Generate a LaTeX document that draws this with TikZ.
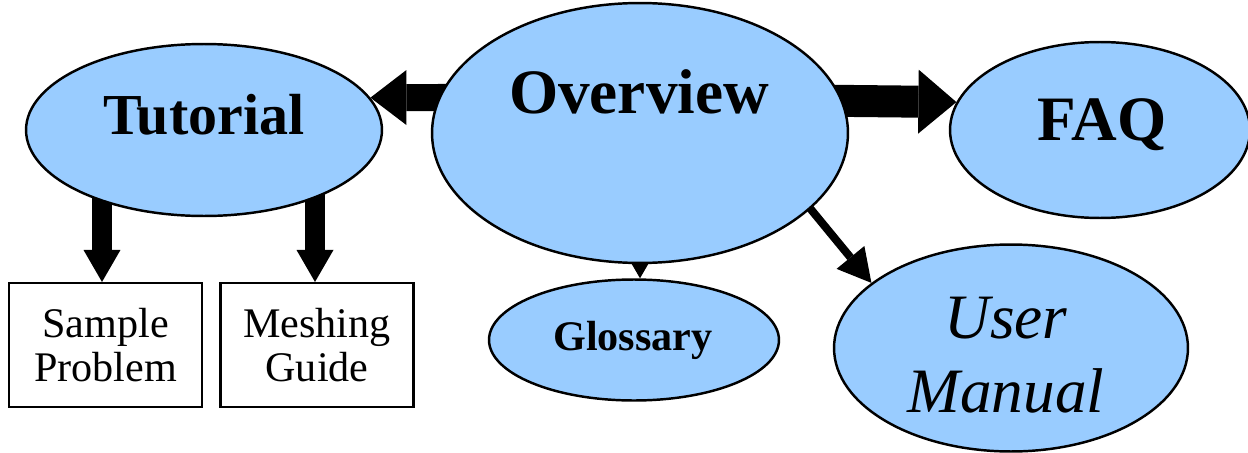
\documentclass[tikz,border=0pt]{standalone}
\usepackage{fontspec}
\setmainfont{Liberation Serif}
\usetikzlibrary{shapes.geometric,arrows.meta,backgrounds}
\definecolor{topicblue}{RGB}{153,204,255}

\begin{document}
\begin{tikzpicture}[x=0.02cm, y=-0.02cm,
		topic/.style={ellipse, draw=black, line width=1.4pt, fill=topicblue, inner sep=0pt},
		page/.style={rectangle, draw=black, line width=1.2pt, fill=white, minimum width=3.86cm, minimum height=2.48cm, align=center, font=\fontsize{24}{25.5}\selectfont},
		title/.style={anchor=base, inner sep=0pt, font=\fontsize{36}{40}\selectfont\bfseries}]
			\useasboundingbox (0,0) rectangle (1248,453);
			
			% Ellipses and boxes
			\node[topic, minimum width=8.32cm, minimum height=5.2cm] (overview) at (640,133) {};
			\node[topic, minimum width=7.12cm, minimum height=3.44cm] (tutorial) at (204,130) {};
			\node[topic, minimum width=6.0cm, minimum height=3.52cm] (faq) at (1100,130) {};
			\node[topic, minimum width=5.8cm, minimum height=2.42cm] (glossary) at (634,340) {};
			\node[topic, minimum width=7.08cm, minimum height=4.14cm] (usermanual) at (1011,348) {};
			\node[page] (sample) at (105.5,345) {Sample\\Problem};
			\node[page] (meshing) at (317,345) {Meshing\\Guide};
			
			% Labels
			\node[title] (overviewtxt) at (639,113) {Overview};
			\node[title, font=\fontsize{33}{36}\selectfont\bfseries] (tutorialtxt) at (204,134) {Tutorial};
			\node[title] (faqtxt) at (1102,140) {FAQ};
			\node[title, font=\fontsize{24}{26}\selectfont\bfseries] (glossarytxt) at (633,350) {Glossary};
			\node[align=center, inner sep=0pt, font=\fontsize{36}{42.5}\selectfont\itshape] (usermanualtxt) at (1006,355) {User\\Manual};
			
			% Arrows behind the shapes
			\begin{scope}[on background layer]
				\draw[line width=0.54cm, shorten <=-0.4cm, -{Triangle[width=1.1cm,length=0.72cm,line width=0pt]}] (overview.170) -- (tutorial.11);
				\draw[line width=0.64cm, shorten <=-0.4cm, -{Triangle[width=1.28cm,length=0.76cm,line width=0pt]}] (overview.9) -- (faq.169);
				\draw[line width=0.4cm, -{Triangle[width=0.74cm,length=0.64cm,line width=0pt]}] ([xshift=-0.07cm]tutorial.center -| sample.north) -- ([xshift=-0.07cm]sample.north);
				\draw[line width=0.4cm, -{Triangle[width=0.74cm,length=0.64cm,line width=0pt]}] ([xshift=-0.04cm]tutorial.center -| meshing.north) -- ([xshift=-0.04cm]meshing.north);
				\draw[line width=0.5pt, -{Triangle[width=0.44cm,length=0.38cm,line width=0pt]}] (overview.center) -- (glossary.north -| overview.center);
				\draw[line width=0.16cm, shorten <=-0.4cm, -{Triangle[width=0.72cm,length=0.66cm,line width=0pt]}] (overview.-24) -- (usermanual.155);
			\end{scope}
\end{tikzpicture}
\end{document}
